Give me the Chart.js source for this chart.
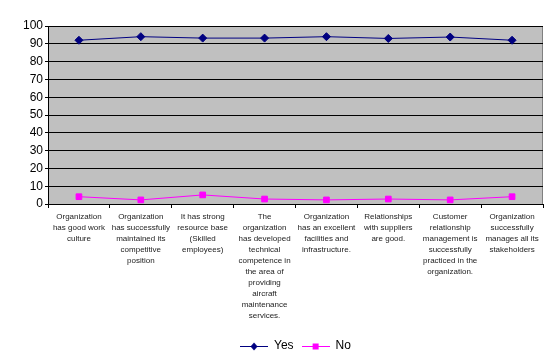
<!DOCTYPE html>
<html>
<head>
<meta charset="utf-8">
<script src="https://cdn.jsdelivr.net/npm/chart.js@4.4.4/dist/chart.umd.min.js"></script>
<style>
  html, body { margin: 0; padding: 0; background: #fff; }
  #wrap { width: 559px; height: 363px; }
</style>
</head>
<body>
<div id="wrap"><canvas id="chart" width="559" height="363"></canvas></div>
<script>
const categories = [
  ['Organization', 'has good work', 'culture'],
  ['Organization', 'has successfully', 'maintained its', 'competitive', 'position'],
  ['It has strong', 'resource base', '(Skilled', 'employees)'],
  ['The', 'organization', 'has developed', 'technical', 'competence in', 'the area of', 'providing', 'aircraft', 'maintenance', 'services.'],
  ['Organization', 'has an excellent', 'facilities and', 'infrastructure.'],
  ['Relationships', 'with suppliers', 'are good.'],
  ['Customer', 'relationship', 'management is', 'successfully', 'practiced in the', 'organization.'],
  ['Organization', 'successfully', 'manages all its', 'stakeholders']
];
const yesValues = [92, 94, 93.2, 93.2, 94, 93, 93.8, 92];
const noValues = [4.1, 2.3, 5.1, 2.8, 2.3, 2.8, 2.3, 4.1];

// legend swatch: short line with the marker in the middle
function swatch(color, shape) {
  const c = document.createElement('canvas');
  c.width = 28; c.height = 10;
  const g = c.getContext('2d');
  g.strokeStyle = color; g.fillStyle = color; g.lineWidth = 1;
  g.beginPath(); g.moveTo(0, 5.5); g.lineTo(28, 5.5); g.stroke();
  g.beginPath();
  if (shape === 'diamond') {
    g.moveTo(14, 1.5); g.lineTo(17.5, 5.5); g.lineTo(14, 9.5); g.lineTo(10.5, 5.5);
  } else {
    g.rect(11, 2.5, 6, 6);
  }
  g.fill();
  return c;
}

const plotBg = {
  id: 'plotBg',
  afterLayout(chart) {
    // nudge legend right, like the original
    const lg = chart.legend;
    if (lg) { lg.left += 24; lg.right += 24; }
  },
  beforeDraw(chart) {
    const { ctx, chartArea: a } = chart;
    ctx.save();
    ctx.fillStyle = '#c0c0c0';
    ctx.fillRect(a.left, a.top, a.right - a.left, a.bottom - a.top);
    ctx.strokeStyle = '#808080';
    ctx.lineWidth = 1;
    ctx.strokeRect(a.left + 0.5, a.top + 0.5, a.right - a.left - 1, a.bottom - a.top);
    ctx.restore();
  }
};

new Chart(document.getElementById('chart'), {
  type: 'line',
  data: {
    labels: categories,
    datasets: [
      {
        label: 'Yes',
        data: yesValues,
        borderColor: '#000080',
        backgroundColor: '#000080',
        borderWidth: 1,
        pointStyle: 'rectRot',
        pointRadius: 4,
        tension: 0
      },
      {
        label: 'No',
        data: noValues,
        borderColor: '#ff00ff',
        backgroundColor: '#ff00ff',
        borderWidth: 1,
        pointStyle: 'rect',
        pointRadius: 4,
        tension: 0
      }
    ]
  },
  options: {
    responsive: false,
    animation: false,
    layout: { padding: { top: 26, right: 16, left: 0, bottom: 1 } },
    plugins: {
      tooltip: { enabled: false },
      legend: {
        position: 'bottom',
        labels: {
          color: '#000',
          font: { family: 'Liberation Sans, Arial', size: 12 },
          usePointStyle: true,
          pointStyleWidth: 28,
          padding: 8,
          generateLabels(chart) {
            return chart.data.datasets.map((ds, i) => ({
              text: ds.label,
              pointStyle: swatch(ds.borderColor, i === 0 ? 'diamond' : 'square'),
              fontColor: '#000',
              datasetIndex: i,
              hidden: false,
              lineWidth: 0
            }));
          }
        }
      }
    },
    scales: {
      x: {
        offset: true,
        grid: {
          offset: true,
          drawOnChartArea: false,
          drawTicks: true,
          tickLength: 4,
          color: '#000'
        },
        border: { color: '#000' },
        ticks: {
          autoSkip: false,
          maxRotation: 0,
          minRotation: 0,
          padding: 3,
          color: '#222',
          font: { family: 'Liberation Sans, Arial', size: 8, lineHeight: 1.38 }
        },
        afterFit(scale) { scale.height = 128; }
      },
      y: {
        min: 0,
        max: 100,
        ticks: {
          stepSize: 10,
          padding: 2,
          color: '#000',
          font: { family: 'Liberation Sans, Arial', size: 12 }
        },
        grid: { color: '#000', tickLength: 3 },
        border: { color: '#000' },
        afterFit(scale) { scale.width = 48; }
      }
    }
  },
  plugins: [plotBg]
});
</script>
</body>
</html>
